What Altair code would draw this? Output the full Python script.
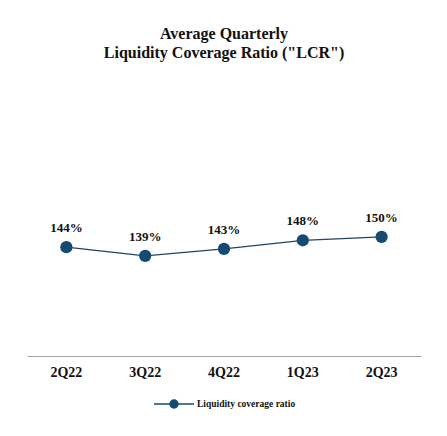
import altair as alt
import pandas as pd

quarters = ["2Q22", "3Q22", "4Q22", "1Q23", "2Q23"]
lcr_values = [144, 139, 143, 148, 150]
labels = ["144%", "139%", "143%", "148%", "150%"]
series_name = "Liquidity coverage ratio"

df = pd.DataFrame({
    "quarter": quarters,
    "lcr": lcr_values,
    "label": labels,
    "series": [series_name] * len(quarters),
})

NAVY = "#134b73"
LINE = "#24445f"
FONT = "Liberation Serif"

x = alt.X("quarter:N", sort=quarters, title=None,
          scale=alt.Scale(type="band", paddingInner=0, paddingOuter=0),
          axis=alt.Axis(labelAngle=0, ticks=False, domain=True, domainColor="#a0a0a0",
                        domainWidth=1, labelFont=FONT, labelFontSize=14, labelFontWeight="bold",
                        labelColor="#111111", labelPadding=9, grid=False))
y = alt.Y("lcr:Q", scale=alt.Scale(domain=[81, 246.6], nice=False, zero=False), axis=None)

color = alt.Color("series:N", scale=alt.Scale(domain=[series_name], range=[NAVY]),
                  legend=alt.Legend(title=None, orient="none", legendX=126, legendY=313,
                                    symbolType="M-1,0H-0.2M0.2,0H1M0.2,0A0.2,0.2 0 1 1 -0.2,0A0.2,0.2 0 1 1 0.2,0",
                                    symbolSize=1600, symbolStrokeWidth=1.5,
                                    symbolFillColor=NAVY, symbolStrokeColor=NAVY,
                                    labelFont=FONT, labelFontSize=9.5, labelFontWeight="bold",
                                    labelColor="#111111", labelOffset=2))

base = alt.Chart(df).encode(x=x, y=y)

line = base.mark_line(color=LINE, strokeWidth=1.2)
points = base.mark_circle(size=150, opacity=1).encode(color=color)
text = base.mark_text(dy=-19, font=FONT, fontSize=13, fontWeight="bold", color="#111111").encode(text="label:N")

chart = (line + points + text).properties(
    width=394, height=286,
    autosize=alt.AutoSizeParams(type="none"),
    padding={"left": 19, "top": 62, "right": 18, "bottom": 60},
    title=alt.TitleParams(text=["Average Quarterly", 'Liquidity Coverage Ratio ("LCR")'],
                          font=FONT, fontSize=16, fontWeight="bold", color="#111111",
                          anchor="middle", offset=9, lineHeight=19),
).configure(background="white").configure_view(stroke=None, strokeWidth=0)

chart.save("out.html", embed_options={"renderer": "svg", "actions": False})
